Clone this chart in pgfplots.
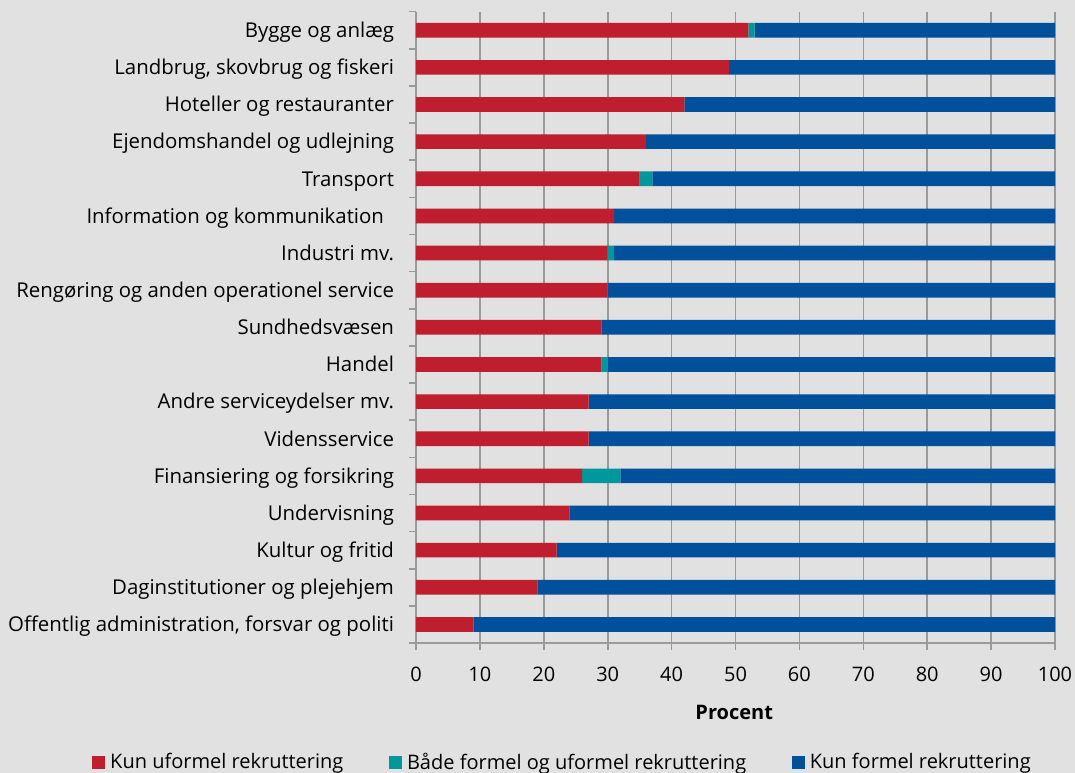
\documentclass[border=0pt]{standalone}
\usepackage{fontspec}
\setmainfont{Open Sans}
\usepackage{pgfplots}
\pgfplotsset{compat=1.18}
\definecolor{bg}{HTML}{E1E1E1}
\definecolor{axgray}{HTML}{9A9A9A}
\definecolor{cred}{HTML}{BE1E2D}
\definecolor{cteal}{HTML}{00979D}
\definecolor{cblue}{HTML}{00509B}
\newcommand{\fs}{\fontsize{15.3}{18}\selectfont}
\newcommand{\fx}{\fontsize{15}{18}\selectfont}
\begin{document}
\begin{tikzpicture}
\useasboundingbox (0,0) rectangle (806.25pt,579.75pt);
\fill[bg] (0,0) rectangle (806.25pt,579.75pt);
\begin{axis}[
  at={(312pt,97.5pt)}, anchor=south west,
  scale only axis, width=479.25pt, height=473.5pt,
  xbar stacked, bar width=11pt,
  xmin=0, xmax=100, ymin=-0.5, ymax=16.5, y dir=reverse,
  xtick={0,10,...,100},
  ytick={-0.5,0.5,...,16.5},
  yticklabel style={text opacity=0},
  extra y ticks={0,1,...,16},
  extra y tick labels={Bygge og anlæg,{Landbrug, skovbrug og fiskeri},Hoteller og restauranter,Ejendomshandel og udlejning,Transport,Information og kommunikation\rule{7.5pt}{0pt},Industri mv.,Rengøring og anden operationel service,Sundhedsvæsen,Handel,Andre serviceydelser mv.,Vidensservice,Finansiering og forsikring,Undervisning,Kultur og fritid,Daginstitutioner og plejehjem,{Offentlig administration, forsvar og politi}},
  extra y tick style={major tick length=0pt, yticklabel style={text opacity=1, font=\fs, anchor=base east, xshift=-13pt, yshift=-5.5pt}},
  axis x line*=bottom, axis y line*=left,
  axis line style={draw=axgray, line width=1.2pt, -},
  tick align=outside,
  major tick length=5.25pt,
  tick style={draw=axgray, line width=1.2pt},
  xmajorgrids, major grid style={draw=axgray, line width=1.2pt},
  /pgf/number format/assume math mode=true,
  xticklabel style={font=\fx, yshift=-9pt},
  xlabel={\textbf{Procent}},
  xlabel style={font=\fx, at={(axis description cs:0.498,0)}, anchor=center, yshift=-51.75pt},
  legend columns=3,
  legend style={draw=none, fill=none, font=\fx, at={(axis description cs:0.2295,-0.1885)}, anchor=center,
    /tikz/every odd column/.append style={column sep=2pt},
    /tikz/every even column/.append style={column sep=32pt}},
]
\addplot[fill=cred, draw=none, legend image code/.code={\fill[cred] (0pt,-4.875pt) rectangle (9.75pt,4.875pt);}] coordinates {(52,0) (49,1) (42,2) (36,3) (35,4) (31,5) (30,6) (30,7) (29,8) (29,9) (27,10) (27,11) (26,12) (24,13) (22,14) (19,15) (9,16)};
\addplot[fill=cteal, draw=none, legend image code/.code={\fill[cteal] (0pt,-4.875pt) rectangle (9.75pt,4.875pt);}] coordinates {(1,0) (0,1) (0,2) (0,3) (2,4) (0,5) (1,6) (0,7) (0,8) (1,9) (0,10) (0,11) (6,12) (0,13) (0,14) (0,15) (0,16)};
\addplot[fill=cblue, draw=none, legend image code/.code={\fill[cblue] (0pt,-4.875pt) rectangle (9.75pt,4.875pt);}] coordinates {(47,0) (51,1) (58,2) (64,3) (63,4) (69,5) (69,6) (70,7) (71,8) (70,9) (73,10) (73,11) (68,12) (76,13) (78,14) (81,15) (91,16)};
\legend{Kun uformel rekruttering,Både formel og uformel rekruttering,Kun formel rekruttering}
\end{axis}
\end{tikzpicture}
\end{document}
